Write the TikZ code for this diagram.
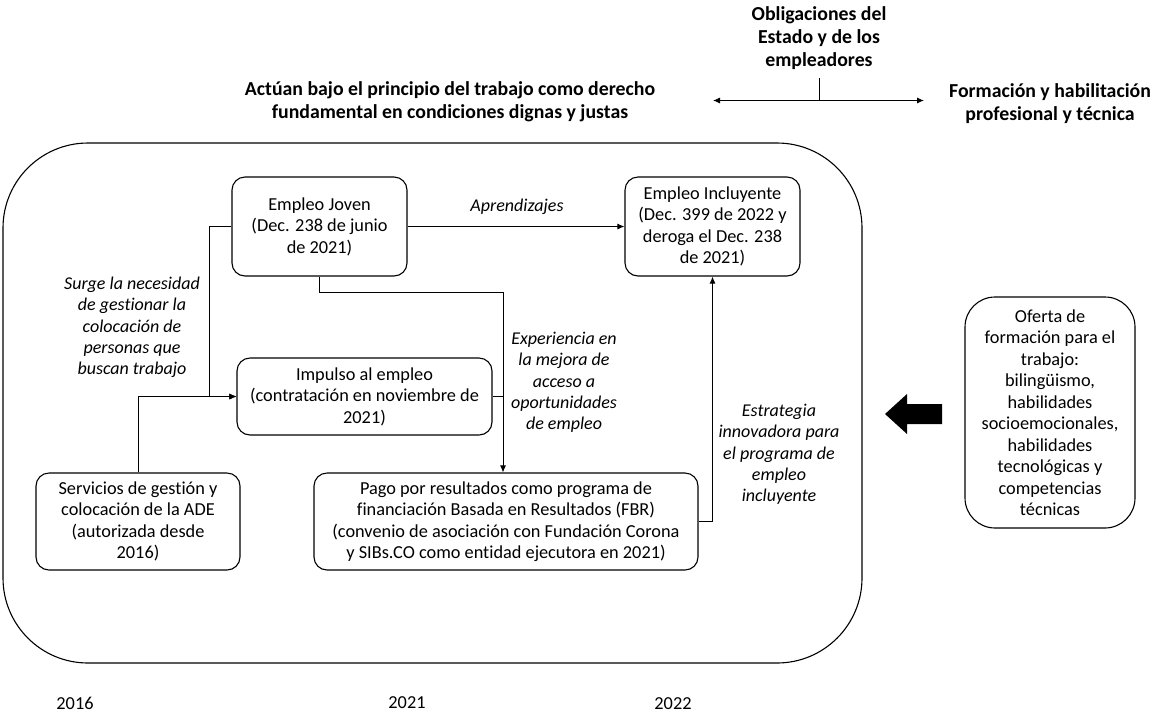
\documentclass[tikz,border=0pt]{standalone}
\usepackage{fontspec}
\setmainfont{Carlito}[Ligatures={NoCommon}]
\usetikzlibrary{arrows.meta,calc}
\begin{document}
\begin{tikzpicture}[x=1pt,y=-1pt,
  txt/.style={font=\fontsize{18.3}{21.5}\selectfont},
  box/.style={draw, line width=1.1pt, rounded corners=13pt, align=center, inner sep=0pt, txt},
  lbl/.style={align=center, inner sep=0pt, font=\fontsize{18}{21.3}\selectfont\itshape},
  ttl/.style={align=center, inner sep=0pt, font=\fontsize{19.8}{23}\selectfont\bfseries},
  year/.style={inner sep=0pt, txt},
  conn/.style={line width=0.9pt},
  tip/.style={-{Latex[length=7pt,width=6pt]}},
  tips/.style={{Latex[length=7pt,width=6pt]}-{Latex[length=7pt,width=6pt]}},
]
\useasboundingbox (0,0) rectangle (1155,713);

% headings
\node[ttl] (actuan) at (450,101.5) {Actúan bajo el principio del trabajo como derecho\\fundamental en condiciones dignas y justas};
\node[ttl] (oblig) at (819,38) {Obligaciones del\\Estado y de los\\empleadores};
\node[ttl] (formacion) at (1050,103.5) {Formación y habilitación\\profesional y técnica};

% double arrow with tick
\coordinate (al) at (713,100.5);
\coordinate (ar) at (924,100.5);
\coordinate (tk) at (819,78);
\draw[conn,tips] (al) -- (ar);
\draw[conn] (tk) -- (tk |- al);

% outer frame
\draw[line width=1.1pt, rounded corners=85pt] (3,143) rectangle (862,663);

% boxes
\node[box, minimum width=175pt, minimum height=99pt] (joven) at (319.5,226.5)
  {Empleo Joven\\(Dec. 238 de junio\\de 2021)};
\node[box, minimum width=175pt, minimum height=99pt] (incl) at (712.5,226.5)
  {Empleo Incluyente\\(Dec. 399 de 2022 y\\deroga el Dec. 238\\de 2021)};
\node[box, minimum width=255pt, minimum height=77pt] (impulso) at (364.5,396.5)
  {Impulso al empleo\\(contratación en noviembre de\\2021)};
\node[box, minimum width=204pt, minimum height=97pt] (serv) at (138,521.5)
  {Servicios de gestión y\\colocación de la ADE\\(autorizada desde\\2016)};
\node[box, minimum width=384pt, minimum height=97pt] (pago) at (506,521.5)
  {Pago por resultados como programa de\\financiación Basada en Resultados (FBR)\\(convenio de asociación con Fundación Corona\\y SIBs.CO como entidad ejecutora en 2021)};
\node[box, rounded corners=30pt, minimum width=170pt, minimum height=231pt] (oferta) at (1050,412.5)
  {Oferta de\\formación para el\\trabajo:\\bilingüismo,\\habilidades\\socioemocionales,\\habilidades\\tecnológicas y\\competencias\\técnicas};

% connectors
\coordinate (jl) at (209,226.5);
\coordinate (jp) at (503,292);
\draw[conn,tip] (joven.west) -- (jl) |- (impulso.west);
\draw[conn,tip] (serv.north) |- (impulso.west);
\draw[conn,tip] (joven.south) |- (jp) -- (jp |- pago.north);
\draw[conn] (impulso.east) -- (impulso.east -| jp);
\draw[conn,tip] (joven.east) -- (incl.west);
\draw[conn,tip] (pago.east) -| (incl.south);

% connector labels
\node[lbl] (aprend) at (517,207) {Aprendizajes};
\node[lbl] (surge) at (132,327.5) {Surge la necesidad\\de gestionar la\\colocación de\\personas que\\buscan trabajo};
\node[lbl] (exper) at (564,382.5) {Experiencia en\\la mejora de\\acceso a\\oportunidades\\de empleo};
\node[lbl] (estrat) at (779,454.5) {Estrategia\\innovadora para\\el programa de\\empleo\\incluyente};

% block arrow
\fill (885,414) -- (907,394) -- (907,404) -- (942,404) -- (942,424) -- (907,424) -- (907,434) -- cycle;

% years
\node[year] (y2016) at (75,703) {2016};
\node[year] (y2021) at (407,703) {2021};
\node[year] (y2022) at (673,704) {2022};
\end{tikzpicture}
\end{document}
